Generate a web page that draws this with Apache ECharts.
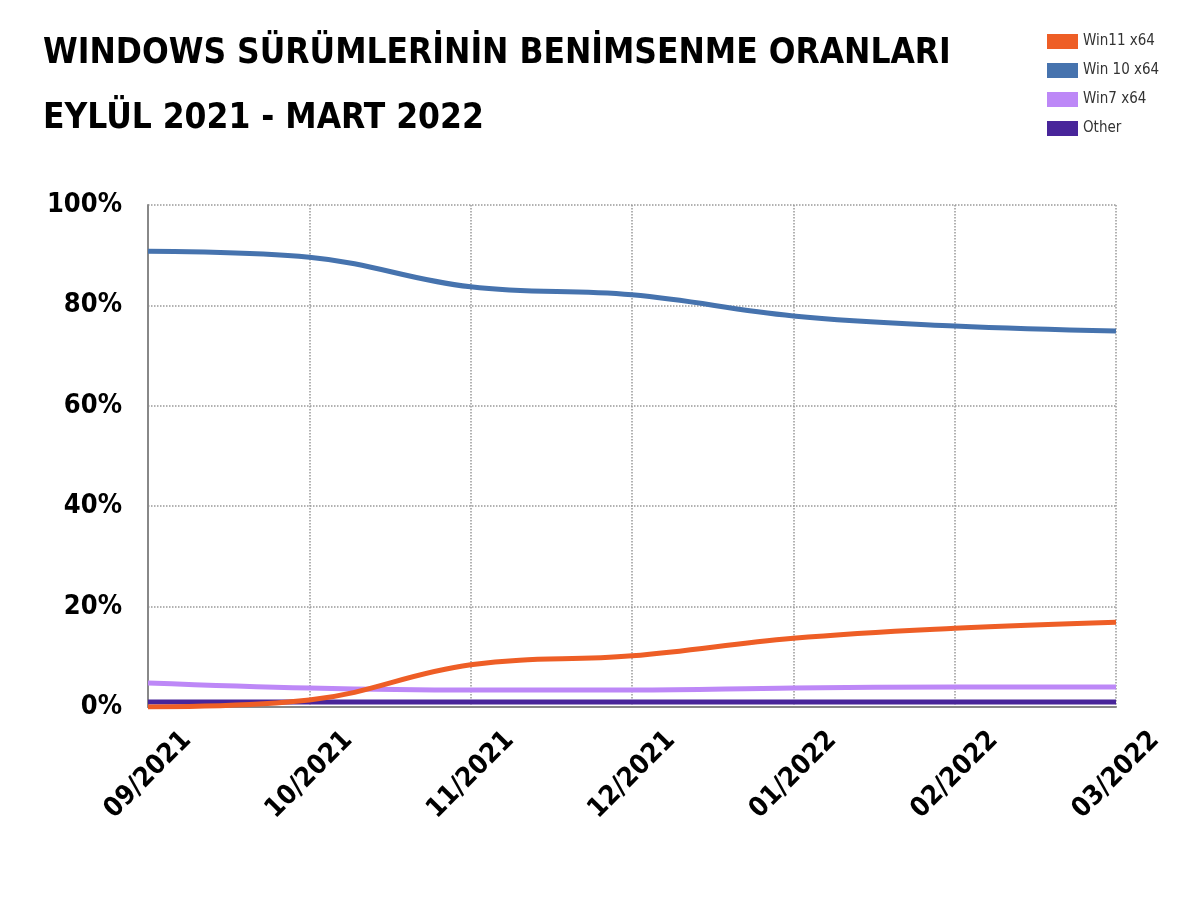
<!DOCTYPE html>
<html>
<head>
<meta charset="utf-8">
<script src="https://cdn.jsdelivr.net/npm/echarts@6/dist/echarts.min.js"></script>
<style>
  html, body { margin: 0; padding: 0; background: #fff; }
  #chart { width: 1200px; height: 900px; }
</style>
</head>
<body>
<div id="chart"></div>
<script>
// Data
const months = ['09/2021', '10/2021', '11/2021', '12/2021', '01/2022', '02/2022', '03/2022'];
const win11 = [0.0, 1.4, 8.4, 10.2, 13.7, 15.7, 16.9];
const win10 = [90.8, 89.6, 83.7, 82.1, 77.9, 75.9, 74.9];
const win7 = [4.8, 3.8, 3.4, 3.4, 3.8, 4.0, 4.0];
const other = [1.0, 1.0, 1.0, 1.0, 1.0, 1.0, 1.0];
const yTicks = [0, 20, 40, 60, 80, 100];

const narrow = '"Liberation Sans Narrow", "DejaVu Sans Condensed", sans-serif';

document.addEventListener('DOMContentLoaded', function() {
    const chart = echarts.init(document.getElementById('chart'));

    function lineSeries(name, data, color, z) {
        return {
            name: name,
            type: 'line',
            data: data,
            smooth: 0.4,
            symbol: 'none',
            z: z,
            lineStyle: { width: 5, color: color },
            itemStyle: { color: color }
        };
    }

    const options = {
        animation: false,
        title: {
            text: 'WINDOWS SÜRÜMLERİNİN BENİMSENME ORANLARI\nEYLÜL 2021 - MART 2022',
            left: 38,
            top: 16,
            textStyle: {
                fontFamily: narrow,
                fontWeight: 'bold',
                fontSize: 35,
                lineHeight: 65,
                color: '#000'
            }
        },
        legend: {
            orient: 'vertical',
            left: 1042,
            top: 29,
            icon: 'rect',
            itemWidth: 31,
            itemHeight: 15,
            itemGap: 14,
            textStyle: {
                fontFamily: narrow,
                fontSize: 15,
                color: '#333'
            },
            data: ['Win11 x64', 'Win 10 x64', 'Win7 x64', 'Other']
        },
        grid: {
            left: 148,
            right: 84,
            top: 205,
            bottom: 193
        },
        xAxis: {
            type: 'category',
            data: months,
            boundaryGap: false,
            axisLine: { lineStyle: { color: '#888', width: 2 } },
            axisTick: { show: false },
            axisLabel: {
                rotate: 45,
                align: 'center',
                verticalAlign: 'middle',
                margin: 68,
                fontFamily: narrow,
                fontWeight: 'bold',
                fontSize: 27,
                color: '#000'
            },
            splitLine: {
                show: true,
                lineStyle: { type: 'dotted', color: '#999', width: 1.5 }
            }
        },
        yAxis: {
            type: 'value',
            min: yTicks[0],
            max: yTicks[yTicks.length - 1],
            interval: 20,
            axisLine: { show: true, lineStyle: { color: '#888', width: 2 } },
            axisTick: { show: false },
            axisLabel: {
                formatter: '{value}%',
                margin: 26,
                fontFamily: narrow,
                fontWeight: 'bold',
                fontSize: 27,
                color: '#000'
            },
            splitLine: {
                show: true,
                lineStyle: { type: 'dotted', color: '#999', width: 1.5 }
            }
        },
        series: [
            lineSeries('Win11 x64', win11, '#EE5E26', 5),
            lineSeries('Win 10 x64', win10, '#4673AE', 4),
            lineSeries('Win7 x64', win7, '#BD88F7', 3),
            lineSeries('Other', other, '#48259A', 2)
        ]
    };

    chart.setOption(options);

    window.addEventListener('resize', function() {
        chart.resize();
    });
});
</script>
</body>
</html>
